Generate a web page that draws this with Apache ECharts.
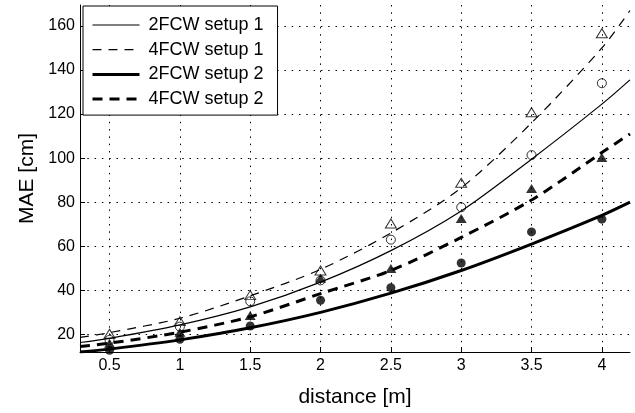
<!DOCTYPE html>
<html><head><meta charset="utf-8">
<script src="https://cdn.jsdelivr.net/npm/echarts@6/dist/echarts.min.js"></script>
<style>html,body{margin:0;padding:0;background:#fff}#c{width:635px;height:413px}</style>
</head><body><div id="c"></div>
<script>
// measured points
const distances = [0.5, 1, 1.5, 2, 2.5, 3, 3.5, 4];
const pts2FCWsetup1 = [17.5, 23.5, 35, 44.5, 63, 77.7, 101.4, 134];     // open circles
const pts4FCWsetup1 = [20.3, 26, 37.8, 49, 70.3, 88.8, 120.8, 156.7];   // open triangles
const pts2FCWsetup2 = [12.8, 17.8, 23.8, 35.5, 41.2, 52.4, 66.5, 72.3]; // filled circles
const pts4FCWsetup2 = [16, 21, 28.6, 45.5, 49.9, 72.6, 86.2, 100.3];    // filled triangles

// fitted curves
const curveX = [0.29, 0.5, 1, 1.5, 2, 2.5, 3, 3.5, 4, 4.2];
const fit2FCWsetup1 = [16.3, 18.2, 24.3, 32.5, 43.7, 58, 76, 99.5, 124.5, 135.5];
const fit4FCWsetup1 = [18.6, 20.8, 27.3, 37.5, 49.5, 66, 86.5, 116, 150, 167];
const fit2FCWsetup2 = [12, 13.3, 17.5, 23, 30, 38.7, 49, 61, 74, 80];
const fit4FCWsetup2 = [14.5, 16, 21, 28, 38.5, 49, 64, 81, 102.5, 111];

const seriesNames = ['2FCW setup 1', '4FCW setup 1', '2FCW setup 2', '4FCW setup 2'];
const xTicks = [0.5, 1, 1.5, 2, 2.5, 3, 3.5, 4];
const yTicks = [20, 40, 60, 80, 100, 120, 140, 160];
const xRange = [0.29, 4.2];
const yRange = [12, 169.5];

const FONT = 'Liberation Sans';
const zip = (xs, ys) => xs.map((x, i) => [x, ys[i]]);

const lineDefs = [
  {name: seriesNames[0], data: fit2FCWsetup1, width: 1.2, type: 'solid'},
  {name: seriesNames[1], data: fit4FCWsetup1, width: 1.2, type: [9, 7]},
  {name: seriesNames[2], data: fit2FCWsetup2, width: 3, type: 'solid'},
  {name: seriesNames[3], data: fit4FCWsetup2, width: 3, type: [10, 7]}
];
const markDefs = [
  {data: pts2FCWsetup1, symbol: 'circle', size: 9, filled: false},
  {data: pts4FCWsetup1, symbol: 'triangle', size: [11, 9], filled: false},
  {data: pts2FCWsetup2, symbol: 'circle', size: 9, filled: true},
  {data: pts4FCWsetup2, symbol: 'triangle', size: [11, 9], filled: true}
];

const series = [];
markDefs.forEach(m => series.push({
  type: 'scatter', data: zip(distances, m.data), symbol: m.symbol, symbolSize: m.size,
  itemStyle: m.filled ? {color: '#000'} : {color: 'rgba(255,255,255,0)', borderColor: '#000', borderWidth: 1},
  z: 3, silent: true
}));
lineDefs.forEach(l => series.push({
  type: 'line', name: l.name, data: zip(curveX, l.data), smooth: 0.3,
  symbol: 'none', itemStyle: {color: '#000'},
  lineStyle: {color: '#000', width: l.width, type: l.type}, z: 4, silent: true
}));

const legendData = lineDefs.map(l => ({
  name: l.name,
  itemStyle: {color: 'rgba(0,0,0,0)', borderWidth: 0, opacity: 0},
  lineStyle: {color: '#000', width: l.width, type: l.type}
}));

const chart = echarts.init(document.getElementById('c'), null, {renderer: 'canvas'});
chart.setOption({
  animation: false,
  backgroundColor: '#fff',
  textStyle: {fontFamily: FONT, color: '#000'},
  grid: {left: 80, right: 5, top: 5, bottom: 61},
  legend: {
    data: legendData, orient: 'vertical', left: 83, top: 6, align: 'left',
    itemWidth: 47, itemHeight: 14, itemGap: 6.7,
    padding: [10, 14, 7, 8], borderColor: '#000', borderWidth: 1, backgroundColor: '#fff',
    itemStyle: {color: 'rgba(0,0,0,0)', borderWidth: 0, opacity: 0},
    textStyle: {fontFamily: FONT, fontSize: 18, color: '#000', lineHeight: 18, padding: [0, 0, 0, 4]},
    selectedMode: false, z: 10
  },
  xAxis: {
    type: 'value', min: xRange[0], max: xRange[1],
    name: 'distance [m]', nameLocation: 'middle', nameGap: 35,
    nameTextStyle: {fontFamily: FONT, fontSize: 21, color: '#000'},
    axisLine: {show: true, lineStyle: {color: '#000', width: 1}},
    axisTick: {show: true, inside: true, length: 5, customValues: xTicks, lineStyle: {color: '#000'}},
    axisLabel: {customValues: xTicks, fontFamily: FONT, fontSize: 16, color: '#000', margin: 6},
    splitLine: {show: true, lineStyle: {color: '#000', width: 1, type: [1.5, 5.8]}}
  },
  yAxis: {
    type: 'value', min: yRange[0], max: yRange[1],
    name: 'MAE [cm]', nameLocation: 'middle', nameGap: 42,
    nameTextStyle: {fontFamily: FONT, fontSize: 21, color: '#000'},
    axisLine: {show: true, lineStyle: {color: '#000', width: 1}},
    axisTick: {show: true, inside: true, length: 5, customValues: yTicks, lineStyle: {color: '#000'}},
    axisLabel: {customValues: yTicks, fontFamily: FONT, fontSize: 16, color: '#000', margin: 5},
    splitLine: {show: true, lineStyle: {color: '#000', width: 1, type: [1.5, 5.8]}}
  },
  series: series
});
</script>
</body></html>
